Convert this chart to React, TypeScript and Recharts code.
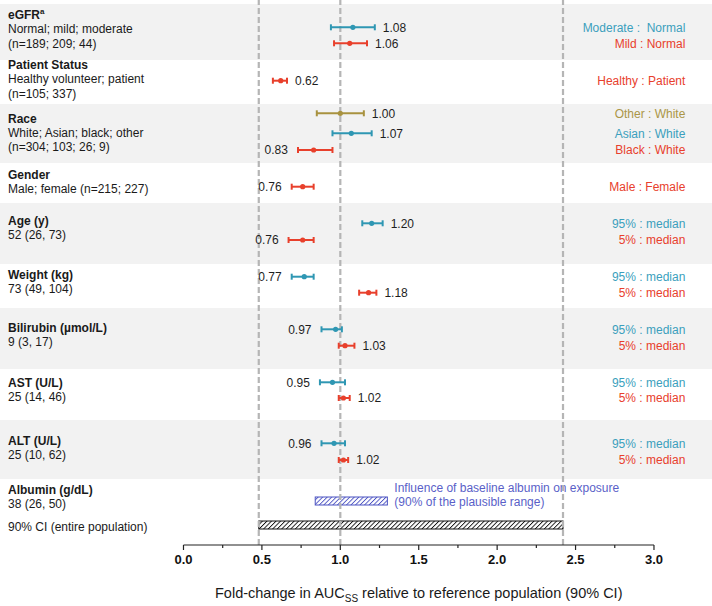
import React from 'react';
import { ComposedChart, XAxis, YAxis, Scatter, ErrorBar, ReferenceArea, ReferenceLine } from 'recharts';

const FONT = '"Liberation Sans", Arial, Helvetica, sans-serif';

// covariate groups shown in the left column
const groupTitles = ['eGFR', 'Patient Status', 'Race', 'Gender', 'Age (y)', 'Weight (kg)', 'Bilirubin (\u00b5mol/L)', 'AST (U/L)', 'ALT (U/L)', 'Albumin (g/dL)', ''];
const groupDetails = [
  ['Normal; mild; moderate', '(n=189; 209; 44)'],
  ['Healthy volunteer; patient', '(n=105; 337)'],
  ['White; Asian; black; other', '(n=304; 103; 26; 9)'],
  ['Male; female (n=215; 227)'],
  ['52 (26, 73)'],
  ['73 (49, 104)'],
  ['9 (3, 17)'],
  ['25 (14, 46)'],
  ['25 (10, 62)'],
  ['38 (26, 50)'],
  ['90% CI (entire population)'],
];

// one entry per marker
const comparisons = [
  'Moderate :\u00a0 Normal', 'Mild : Normal', 'Healthy : Patient',
  'Other : White', 'Asian : White', 'Black : White', 'Male : Female',
  '95% : median', '5% : median', '95% : median', '5% : median',
  '95% : median', '5% : median', '95% : median', '5% : median',
  '95% : median', '5% : median',
];
const estimates = [1.08, 1.06, 0.62, 1.0, 1.07, 0.83, 0.76, 1.2, 0.76, 0.77, 1.18, 0.97, 1.03, 0.95, 1.02, 0.96, 1.02];
const ciLow = [0.94, 0.96, 0.57, 0.85, 0.95, 0.73, 0.69, 1.14, 0.67, 0.69, 1.12, 0.88, 0.99, 0.87, 0.99, 0.88, 0.99];
const ciHigh = [1.22, 1.17, 0.66, 1.15, 1.2, 0.95, 0.83, 1.27, 0.83, 0.83, 1.23, 1.01, 1.09, 1.03, 1.06, 1.03, 1.05];
const seriesOf = ['blue', 'red', 'red', 'gold', 'blue', 'red', 'red', 'blue', 'red', 'blue', 'red', 'blue', 'red', 'blue', 'red', 'blue', 'red'];

const albuminRange = [0.84, 1.3];
const populationCI = [0.48, 2.42];
const xTicks = [0, 0.25, 0.5, 0.75, 1, 1.25, 1.5, 1.75, 2, 2.25, 2.5, 2.75, 3];

// layout: y scale is 1 unit per pixel of plot height
const X_MIN = -1.17;
const X_MAX = 3.37;
const Y_MAX = 545;
const LEFT_X = -1.119;
const RIGHT_X = 3.2;
const rowY = [27.3, 43.3, 80.7, 113.3, 133.3, 150, 186.7, 223.3, 240, 276.7, 292.7, 329.3, 345.7, 382.3, 398, 443.3, 460];
const labelSide = ['R', 'R', 'R', 'R', 'R', 'L', 'L', 'R', 'L', 'L', 'R', 'L', 'R', 'L', 'R', 'L', 'R'];
const groupY = [15, 65, 118.3, 175, 220.7, 275, 327.3, 382.3, 440.7, 490, 526.7];
const bands = [[4, 60], [104, 163], [203, 264], [308, 369], [420, 479]];
const albuminBarY = [497, 505];
const populationBarY = [521, 529];

const COLORS: Record<string, string> = { blue: '#2f97b3', red: '#e8402c', gold: '#a8923f' };
const TEXT_COLORS: Record<string, string> = { blue: '#3b9fbd', red: '#e8402c', gold: '#ab9647' };
const ALBUMIN = '#4b52c2';

const points = estimates.map((v, i) => ({
  x: v,
  y: rowY[i],
  err: [v - ciLow[i], ciHigh[i] - v],
  series: seriesOf[i],
}));
const valueLabels = estimates.map((v, i) => ({
  x: labelSide[i] === 'R' ? ciHigh[i] : ciLow[i],
  y: rowY[i],
  text: v.toFixed(2),
  side: labelSide[i],
}));
const compLabels = comparisons.map((c, i) => ({ x: RIGHT_X, y: rowY[i], text: c, series: seriesOf[i] }));
const groupLabels = groupTitles.map((t, i) => ({ x: LEFT_X, y: groupY[i], title: t, lines: groupDetails[i] }));

const Dot = (props: any) => <circle cx={props.cx} cy={props.cy} r={2.6} fill={props.fill} />;

const ValueLabel = (props: any) => {
  const { cx, cy, payload } = props;
  const right = payload.side === 'R';
  return (
    <text x={right ? cx + 8 : cx - 10} y={cy} dy="0.35em" textAnchor={right ? 'start' : 'end'}
      fontFamily={FONT} fontSize={12} fill="#1e1e1e">
      {payload.text}
    </text>
  );
};

const CompLabel = (props: any) => (
  <text x={props.cx} y={props.cy} dy="0.35em" textAnchor="end" fontFamily={FONT} fontSize={12}
    fill={TEXT_COLORS[props.payload.series]}>
    {props.payload.text}
  </text>
);

const GroupLabel = (props: any) => {
  const { cx, cy, payload } = props;
  const lines: string[] = payload.lines;
  const start = payload.title ? 1 : 0;
  return (
    <g fontFamily={FONT} fontSize={12} fill="#1a1a1a">
      {payload.title && (
        <text x={cx} y={cy} dy="0.35em" fontWeight="bold">
          {payload.title}
          {payload.title === 'eGFR' && <tspan dy={-5} fontSize={8}>a</tspan>}
        </text>
      )}
      {lines.map((l, k) => (
        <text key={k} x={cx} y={cy + (k + start) * 14.2} dy="0.35em">{l}</text>
      ))}
    </g>
  );
};

const HatchRect = (props: any) => {
  const { x, y, width, height, id, color, note } = props;
  return (
    <g>
      <defs>
        <pattern id={id} patternUnits="userSpaceOnUse" width={3.2} height={3.2} patternTransform="rotate(45)">
          <rect width={3.2} height={3.2} fill="#fff" />
          <line x1={0} y1={0} x2={0} y2={3.2} stroke={color} strokeWidth={1.8} />
        </pattern>
      </defs>
      <rect x={x} y={y} width={width} height={height} fill={`url(#${id})`} stroke={color} strokeWidth={1} />
      {note && (
        <g fontFamily={FONT} fontSize={12} fill="#5a5fc8">
          <text x={x + width + 7} y={y - 9} dy="0.35em">{note[0]}</text>
          <text x={x + width + 7} y={y + 5} dy="0.35em">{note[1]}</text>
        </g>
      )}
    </g>
  );
};

const AxisTick = (props: any) => {
  const { x, y, payload } = props;
  const v = payload.value;
  const major = Math.abs(v * 2 - Math.round(v * 2)) < 1e-6;
  return (
    <g>
      <line x1={x} x2={x} y1={y} y2={y + (major ? 5 : 3)} stroke="#222" strokeWidth={1.2} />
      {major && (
        <text x={x} y={y + 14} dy="0.35em" textAnchor="middle" fontFamily={FONT} fontSize={13}
          fontWeight="bold" fill="#111">
          {v.toFixed(1)}
        </text>
      )}
    </g>
  );
};

const AxisTitle = (props: any) => {
  const vb = props.viewBox;
  return (
    <text x={vb.x + vb.width / 2} y={vb.y + 48} dy="0.35em" textAnchor="middle" fontFamily={FONT}
      fontSize={14.5} fill="#1a1a1a">
      Fold-change in AUC
      <tspan dy={4} fontSize={10}>SS</tspan>
      <tspan dy={-4}> relative to reference population (90% CI)</tspan>
    </text>
  );
};

export default function App() {
  return (
    <div style={{ position: 'absolute', left: 0, top: 0, background: '#fff' }}>
      <ComposedChart width={712} height={606} margin={{ top: 0, right: 0, bottom: 31, left: 0 }}>
        <XAxis type="number" dataKey="x" domain={[X_MIN, X_MAX]} allowDataOverflow ticks={xTicks}
          interval={0} axisLine={false} tickLine={false} tickSize={0} tickMargin={0} tick={<AxisTick />} />
        <YAxis type="number" dataKey="y" domain={[0, Y_MAX]} reversed hide allowDataOverflow />
        {bands.map(([y1, y2], i) => (
          <ReferenceArea key={i} x1={X_MIN} x2={X_MAX} y1={y1} y2={y2} fill="#f2f2f2" fillOpacity={1}
            stroke="none" ifOverflow="visible" />
        ))}
        {[populationCI[0], 1, populationCI[1]].map((v, i) => (
          <ReferenceLine key={i} x={v} stroke="#b5b5b5" strokeWidth={2.2} strokeDasharray="6 3" />
        ))}
        <ReferenceArea x1={albuminRange[0]} x2={albuminRange[1]} y1={albuminBarY[0]} y2={albuminBarY[1]}
          ifOverflow="visible"
          shape={(p: any) => (
            <HatchRect {...p} id="hatchBlue" color={ALBUMIN}
              note={['Influence of baseline albumin on exposure', '(90% of the plausible range)']} />
          )} />
        <ReferenceArea x1={populationCI[0]} x2={populationCI[1]} y1={populationBarY[0]} y2={populationBarY[1]}
          ifOverflow="visible" shape={(p: any) => <HatchRect {...p} id="hatchBlack" color="#111" />} />
        <ReferenceLine segment={[{ x: xTicks[0], y: Y_MAX }, { x: xTicks[xTicks.length - 1], y: Y_MAX }]}
          stroke="#222" strokeWidth={1.2} ifOverflow="visible" label={AxisTitle} />
        {['gold', 'blue', 'red'].map((s) => (
          <Scatter key={s} data={points.filter((p) => p.series === s)} fill={COLORS[s]} shape={Dot}
            isAnimationActive={false}>
            <ErrorBar dataKey="err" direction="x" width={3} strokeWidth={2} stroke={COLORS[s]}
              isAnimationActive={false} />
          </Scatter>
        ))}
        <Scatter data={valueLabels} shape={ValueLabel} isAnimationActive={false} />
        <Scatter data={compLabels} shape={CompLabel} isAnimationActive={false} />
        <Scatter data={groupLabels} shape={GroupLabel} isAnimationActive={false} />
      </ComposedChart>
    </div>
  );
}
